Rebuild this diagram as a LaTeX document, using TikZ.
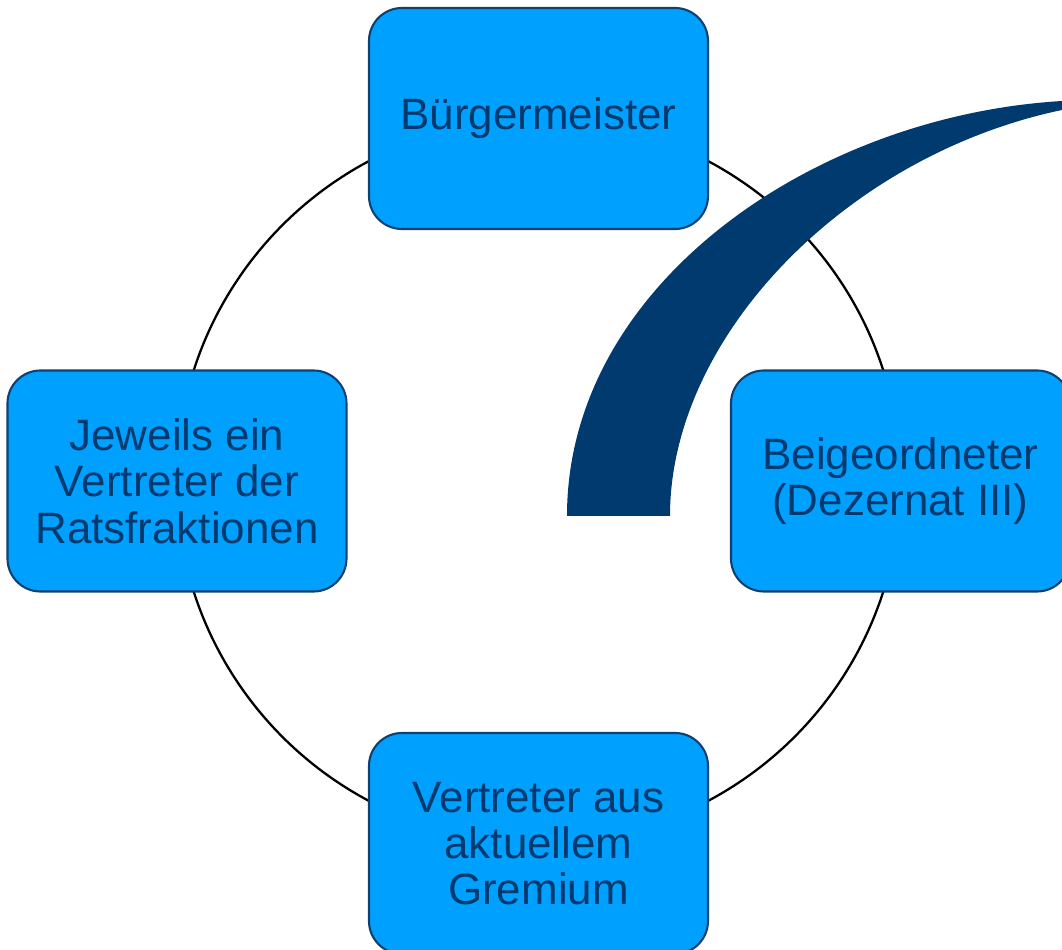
\documentclass[tikz,border=0pt]{standalone}
\usepackage{fontspec}
\setmainfont{Liberation Sans}
\usetikzlibrary{positioning}
\definecolor{boxblue}{RGB}{0,160,255}
\definecolor{navy}{RGB}{0,58,110}
\definecolor{rim}{RGB}{16,64,112}

\begin{document}
\begin{tikzpicture}[
    box/.style={draw=rim, line width=0.6pt, fill=boxblue, rounded corners=0.33cm,
        minimum width=3.39cm, minimum height=2.21cm, inner sep=0pt, align=center,
        text=navy, font=\fontsize{12.5}{13.2}\selectfont}]
  \useasboundingbox (-5.385,-4.69) rectangle (5.235,4.81);
  \clip (-5.385,-4.69) rectangle (5.235,4.81);

  \coordinate (mid) at (0,0);
  \draw[line width=0.65pt] (mid) circle (3.62);

  \node[box] (bgm) at (0,3.625) {Bürgermeister};
  \node[box] (beig) at (3.62,0) {Beigeordneter\\(Dezernat III)};
  \node[box] (gremium) at (0,-3.625) {Vertreter aus\\aktuellem\\Gremium};
  \node[box] (frakt) at (-3.615,0) {Jeweils ein\\Vertreter der\\Ratsfraktionen};

  % dark swoosh
  \fill[navy] (0.285,-0.35) .. controls (0.285,1.95) and (2.735,3.65) .. (5.235,3.80)
     -- (5.235,3.71) .. controls (3.085,3.26) and (1.315,1.45) .. (1.315,-0.35) -- cycle;
\end{tikzpicture}
\end{document}
